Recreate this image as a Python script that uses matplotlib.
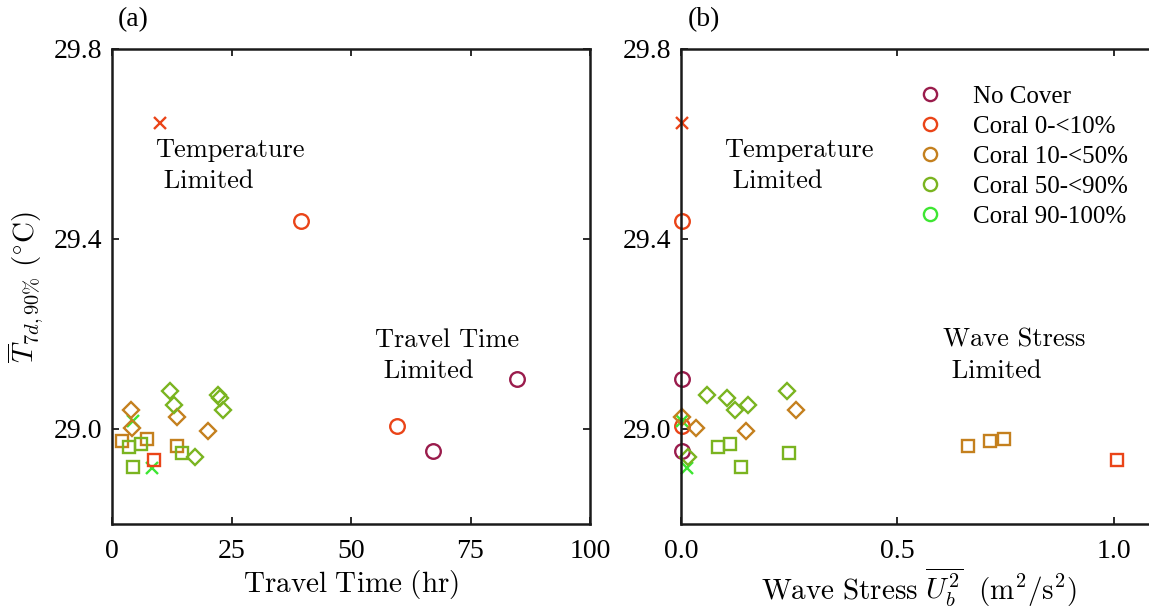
import numpy as np
import matplotlib
matplotlib.use("Agg")
import matplotlib.pyplot as plt
from matplotlib.lines import Line2D

plt.rcParams['font.family'] = ['Liberation Serif', 'DejaVu Serif']
plt.rcParams['mathtext.fontset'] = 'cm'

# classes (legend order)
class_names = ["No Cover", "Coral 0-<10%", "Coral 10-<50%", "Coral 50-<90%", "Coral 90-100%"]
class_colors = ["#9A1C4C", "#EA4418", "#C4801E", "#7AB420", "#3EE632"]

# one entry per site: cover class, marker, mean temperature, travel time, wave stress
site_class = [1, 0, 1, 0,
              1, 4, 4,
              1, 2, 2, 2, 3, 3, 3, 3,
              2, 2, 2, 2, 3, 3, 3, 3, 3, 3]
site_marker = ['o', 'o', 'o', 'o',
               'x', 'x', 'x',
               's', 's', 's', 's', 's', 's', 's', 's',
               'D', 'D', 'D', 'D', 'D', 'D', 'D', 'D', 'D', 'D']
temp = [29.437, 29.106, 29.006, 28.953,
        29.644, 29.017, 28.917,
        28.934, 28.965, 28.975, 28.979, 28.962, 28.969, 28.921, 28.950,
        28.995, 29.002, 29.026, 29.040, 28.941, 29.041, 29.051, 29.066, 29.072, 29.079]
travel = [39.5, 84.7, 59.6, 67.2,
          10.0, 4.4, 8.4,
          8.8, 13.6, 2.1, 7.3, 3.6, 6.1, 4.4, 14.6,
          20.1, 4.2, 13.6, 4.0, 17.4, 23.2, 13.0, 22.6, 22.2, 12.1]
wave = [0.002, 0.002, 0.002, 0.002,
        0.002, 0.003, 0.014,
        1.007, 0.663, 0.714, 0.746, 0.085, 0.113, 0.139, 0.249,
        0.150, 0.035, 0.002, 0.266, 0.016, 0.125, 0.155, 0.106, 0.060, 0.245]

msize = {'o': 10.5, 'x': 9, 's': 9, 'D': 8.5}

fig = plt.figure(figsize=(11.49, 6.10), dpi=100)
ax1 = fig.add_axes([112/1149, 86/610, 478/1149, 475/610])
ax2 = fig.add_axes([681/1149, 86/610, 476/1149, 475/610])


def draw(ax, xs):
    for i in range(len(temp)):
        c = class_colors[site_class[i]]
        m = site_marker[i]
        if m == 'x':
            ax.plot(xs[i], temp[i], ls='none', marker=m, ms=msize[m], mec=c, mew=1.7, clip_on=False)
        else:
            ax.plot(xs[i], temp[i], ls='none', marker=m, ms=msize[m], mec=c, mfc='none', mew=1.7, clip_on=False)
    ax.set_ylim(28.8, 29.8)
    ax.set_yticks([29.0, 29.4, 29.8])
    ax.set_yticklabels(["29.0", "29.4", "29.8"])
    ax.tick_params(direction='in', top=True, right=True, labelsize=20, length=5, width=1.3, color='#1a1a1a')
    ax.tick_params(axis='x', pad=11)
    ax.tick_params(axis='y', pad=7)
    for s in ax.spines.values():
        s.set_linewidth(1.8)
        s.set_color('#1a1a1a')


draw(ax1, travel)
ax1.set_xlim(0, 100)
ax1.set_xticks([0, 25, 50, 75, 100])
ax1.set_xlabel(r'$\mathrm{Travel\ Time\ (hr)}$', fontsize=21, labelpad=3)
ax1.set_ylabel(r'$\overline{T}_{7d,90\%}\ (^{\circ}\mathrm{C})$', fontsize=21, labelpad=6)
ax1.text(0.012, 1.035, "(a)", transform=ax1.transAxes, fontsize=20, ha='left', va='bottom')
ax1.text(9, 29.613, "Temperature\n Limited", family='cmr10', fontsize=19, va='top', linespacing=1.4)
ax1.text(55, 29.213, "Travel Time\n Limited", family='cmr10', fontsize=19, va='top', linespacing=1.4)

draw(ax2, wave)
ax2.set_xlim(0, 1.1)
ax2.set_xticks([0.0, 0.5, 1.0])
ax2.set_xticklabels(["0.0", "0.5", "1.0"])
ax2.set_xlabel(r'$\mathrm{Wave\ Stress}\ \overline{U_b^2}\ \ (\mathrm{m^2/s^2})$', fontsize=21, labelpad=1)
ax2.text(0.015, 1.035, "(b)", transform=ax2.transAxes, fontsize=20, ha='left', va='bottom')
ax2.text(0.10, 29.613, "Temperature\n Limited", family='cmr10', fontsize=19, va='top', linespacing=1.4)
ax2.text(0.605, 29.213, "Wave Stress\n Limited", family='cmr10', fontsize=19, va='top', linespacing=1.4)

handles = [Line2D([], [], ls='none', marker='o', ms=9.5, mec=c, mfc='none', mew=1.7) for c in class_colors]
ax2.legend(handles, class_names, loc='upper left', bbox_to_anchor=(0.476, 0.945), frameon=False,
           fontsize=18, handlelength=1.0, handletextpad=1.2, labelspacing=0.3, borderaxespad=0)

fig.savefig("out.png", dpi=100)
